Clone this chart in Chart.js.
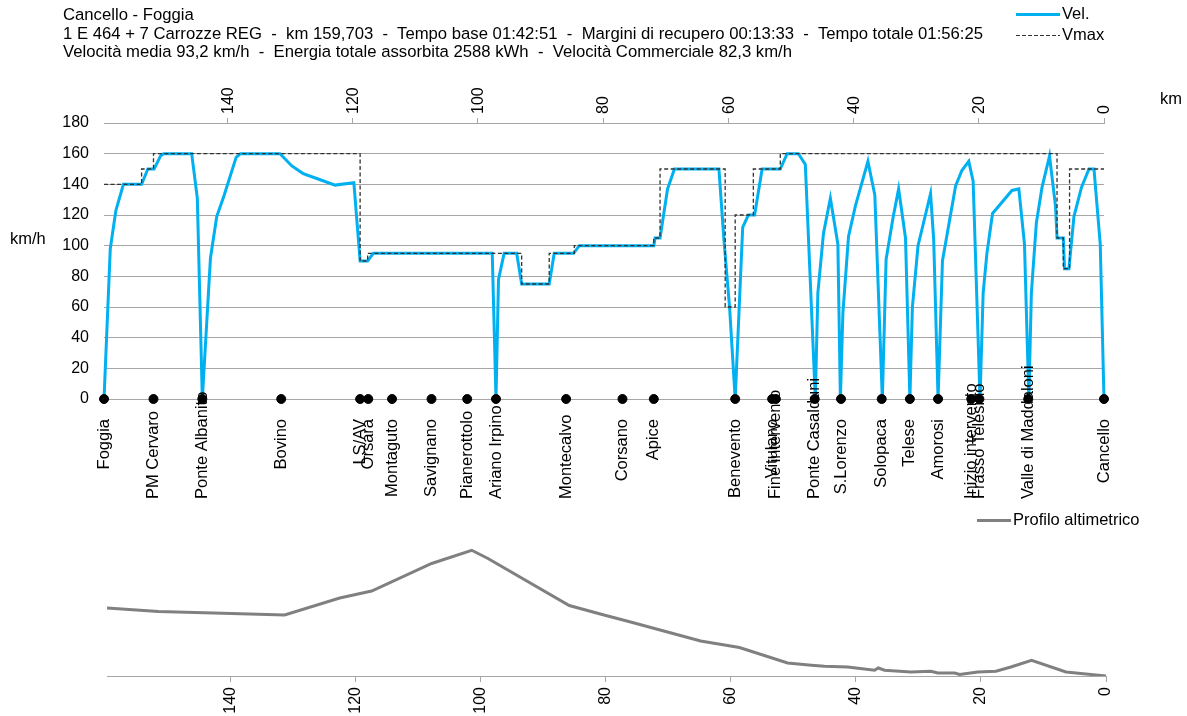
<!DOCTYPE html>
<html>
<head>
<meta charset="utf-8">
<script src="https://cdn.jsdelivr.net/npm/chart.js@4.4.0/dist/chart.umd.min.js"></script>
<style>
  body { margin: 0; background: #fff; font-family: "Liberation Sans", Arial, sans-serif; }
  #pagina { position: relative; width: 1187px; height: 716px; overflow: hidden; }
  canvas { position: absolute; left: 0; }
  #graficoVel { top: 0; }
  #graficoProfilo { top: 500px; }
  .testo { position: absolute; font-size: 16.5px; color: #000; white-space: pre; line-height: 18.5px; }
  .linea { position: absolute; height: 3px; width: 44px; }
</style>
</head>
<body>
<div id="pagina">
  <canvas id="graficoVel" width="1187" height="510"></canvas>
  <canvas id="graficoProfilo" width="1187" height="216"></canvas>

  <div class="testo" style="left:63px; top:6px; font-size:16.7px;">Cancello - Foggia
1 E 464 + 7 Carrozze REG  -  km 159,703  -  Tempo base 01:42:51  -  Margini di recupero 00:13:33  -  Tempo totale 01:56:25
Velocità media 93,2 km/h  -  Energia totale assorbita 2588 kWh  -  Velocità Commerciale 82,3 km/h</div>

  <!-- legenda in alto -->
  <div class="linea" style="left:1016px; top:13px; background:#00b0f0;"></div>
  <div class="testo" style="left:1062px; top:4px;">Vel.</div>
  <div class="linea" style="left:1016px; top:35px; height:1px; background:repeating-linear-gradient(90deg,#333 0 4px,transparent 4px 6px);"></div>
  <div class="testo" style="left:1062px; top:25px;">Vmax</div>

  <div class="testo" style="left:10px; top:229px;">km/h</div>
  <div class="testo" style="left:1160px; top:89px;">km</div>

  <!-- legenda profilo -->
  <div class="linea" style="left:977px; top:519px; width:34px; background:#808080;"></div>
  <div class="testo" style="left:1013px; top:510px;">Profilo altimetrico</div>
</div>

<script>
// km progressivi (da Foggia 159,703 a Cancello 0)
var kmTotale = 159.703;
var tickKm = [140, 120, 100, 80, 60, 40, 20, 0];

// velocita' effettiva
var kmVel = [159.7, 158.7, 157.8, 156.6, 153.7, 152.7, 151.7, 150.65, 150.2, 145.7, 144.8, 144.0,
  142.7, 141.7, 140.5, 138.6, 137.9, 131.6, 129.7, 127.9, 125.5, 122.8, 119.8, 118.8, 117.6, 116.7,
  97.7, 97.1, 96.7, 95.8, 93.8, 93.0, 88.6, 87.8, 84.7, 83.8, 71.9, 71.7, 70.9, 70.3, 69.7, 68.6,
  61.5, 60.7, 59.8, 58.9, 57.7, 56.8, 55.8, 54.6, 51.7, 50.6, 48.8, 47.7, 46.1, 45.7, 44.8, 43.7,
  42.5, 42.1, 41.7, 40.8, 39.7, 37.7, 36.6, 35.4, 34.8, 33.7, 32.8, 31.7, 31.0, 30.6, 29.7, 27.7,
  27.2, 26.5, 25.8, 23.7, 22.7, 21.6, 20.9, 19.8, 19.3, 18.7, 17.8, 14.7, 13.6, 12.7, 12.0, 11.6,
  10.8, 9.9, 8.7, 7.75, 7.5, 6.5, 6.3, 5.6, 4.8, 3.6, 2.4, 1.6, 0.6, 0];
var vel = [0, 98, 123, 140, 140, 150, 150, 158.7, 160, 160, 131, 0,
  92, 119, 133, 157.6, 160, 160, 152, 147, 143.5, 139.5, 141, 90, 90, 95,
  95, 0, 78, 95, 95, 75, 75, 95, 95, 100, 100, 105, 105, 121, 137, 150,
  150, 104, 60, 0, 112, 120, 120, 150, 150, 160, 160, 153, 0, 69, 108, 131,
  101, 0, 56, 106, 126, 155, 133, 0, 91, 118, 137, 105, 0, 60, 100, 134,
  104, 0, 90, 139, 149, 155, 142, 0, 69, 95, 121, 136, 137, 101, 0, 69,
  115, 138, 158.5, 126, 105, 105, 85, 85, 119, 138, 150, 150, 101, 0];

// velocita' massima: km di inizio tratta e limite
var kmVmax = [159.7, 153.7, 151.8, 118.8, 117.6, 93.0, 88.6, 84.6, 71.9, 70.9, 60.5, 58.9, 56.0, 51.7, 7.5, 6.5, 5.5, 0];
var vmax = [140, 150, 160, 90, 95, 75, 95, 100, 105, 150, 60, 120, 150, 160, 105, 85, 150, 150];

// stazioni e punti notevoli
var nomiStazioni = ['Foggia', 'PM Cervaro', 'Ponte Albanito', 'Bovino', 'LS/AV', 'Orsara', 'Montaguto',
  'Savignano', 'Pianerottolo', 'Ariano Irpino', 'Montecalvo', 'Corsano', 'Apice', 'Benevento',
  'Vitulano', 'Fine intervento', 'Ponte Casalduni', 'S.Lorenzo', 'Solopaca', 'Telese', 'Amorosi',
  'Inizio intervento', 'Frasso Telesino', 'Valle di Maddaloni', 'Cancello'];
var kmStazioni = [159.7, 151.8, 144.0, 131.4, 118.8, 117.5, 113.7, 107.4, 101.7, 97.1, 85.9, 76.9,
  71.9, 58.9, 53.0, 52.4, 46.2, 42.0, 35.5, 31.0, 26.5, 21.2, 19.9, 12.1, 0];

// profilo altimetrico (m)
var kmProfilo = [159.7, 151.5, 139.8, 131.3, 122.5, 117.4, 107.8, 101.4, 98.8, 85.8, 80.7, 76.0, 64.8,
  58.6, 50.9, 47.1, 45.0, 41.3, 37.0, 36.4, 35.4, 31.2, 28.0, 26.9, 24.2, 23.4, 20.5, 17.6, 15.2,
  11.9, 6.4, 4.0, 0];
var quote = [312, 298, 290, 284, 352, 380, 490, 543, 510, 322, 287, 256, 180,
  154, 92, 83, 79, 76, 63, 72, 63, 56, 59, 52, 52, 46, 56, 59, 76,
  103, 56, 50, 40];

function punti(xs, ys) {
  var r = [];
  for (var i = 0; i < xs.length; i++) r.push({ x: xs[i], y: ys[i] });
  return r;
}
function tickFissi(a) {
  a.ticks = tickKm.map(function(v) { return { value: v }; });
}

Chart.defaults.font.family = '"Liberation Sans", Arial, sans-serif';
Chart.defaults.font.size = 16;
Chart.defaults.color = '#000';
var grigio = '#a6a6a6';

// nomi delle stazioni in verticale sotto i pallini
var etichetteStazioni = {
  id: 'etichetteStazioni',
  afterDatasetsDraw: function(chart) {
    var ctx = chart.ctx;
    var sx = chart.scales.x;
    var fondo = chart.chartArea.bottom;
    ctx.save();
    ctx.font = '16.5px "Liberation Sans", Arial, sans-serif';
    ctx.fillStyle = '#000';
    ctx.textAlign = 'left';
    ctx.textBaseline = 'middle';
    for (var i = 0; i < nomiStazioni.length; i++) {
      var x = sx.getPixelForValue(kmStazioni[i]);
      var w = ctx.measureText(nomiStazioni[i]).width;
      var basso = Math.min(fondo + 20 + w, fondo + 100);
      ctx.save();
      ctx.translate(x, basso);
      ctx.rotate(-Math.PI / 2);
      ctx.fillText(nomiStazioni[i], 0, 0);
      ctx.restore();
    }
    ctx.restore();
  }
};

new Chart(document.getElementById('graficoVel'), {
  type: 'line',
  data: {
    datasets: [{
      label: 'Stazioni',
      data: kmStazioni.map(function(k) { return { x: k, y: 0 }; }),
      showLine: false,
      pointRadius: 4.5,
      pointBackgroundColor: '#000',
      pointBorderColor: '#000',
      clip: false,
      order: 0
    }, {
      label: 'Vmax',
      data: punti(kmVmax, vmax),
      borderColor: '#333',
      borderWidth: 1.3,
      borderDash: [4, 2.5],
      stepped: true,
      pointRadius: 0,
      clip: false,
      order: 1
    }, {
      label: 'Vel.',
      data: punti(kmVel, vel),
      borderColor: '#00b0f0',
      borderWidth: 3,
      pointRadius: 0,
      tension: 0,
      clip: false,
      order: 2
    }]
  },
  options: {
    responsive: false,
    animation: false,
    layout: { padding: { left: 0, right: 83, top: 0, bottom: 111 } },
    plugins: { legend: { display: false }, tooltip: { enabled: false } },
    scales: {
      x: {
        type: 'linear',
        position: 'top',
        reverse: true,
        min: 0,
        max: kmTotale,
        afterBuildTicks: tickFissi,
        afterFit: function(a) { a.height = 123; },
        ticks: { minRotation: 90, maxRotation: 90, autoSkip: false, padding: 4, labelOffset: 20 },
        grid: { drawOnChartArea: false, tickLength: 5, color: grigio },
        border: { color: grigio }
      },
      y: {
        min: 0,
        max: 180,
        afterFit: function(a) { a.width = 104; },
        ticks: { stepSize: 20, padding: 15 },
        grid: { drawTicks: false, color: grigio },
        border: { display: false }
      }
    }
  },
  plugins: [etichetteStazioni]
});

new Chart(document.getElementById('graficoProfilo'), {
  type: 'line',
  data: {
    datasets: [{
      label: 'Profilo altimetrico',
      data: punti(kmProfilo, quote),
      borderColor: '#808080',
      borderWidth: 3,
      pointRadius: 0,
      tension: 0
    }]
  },
  options: {
    responsive: false,
    animation: false,
    layout: { padding: { left: 107, right: 81, top: 36, bottom: 0 } },
    plugins: { legend: { display: false }, tooltip: { enabled: false } },
    scales: {
      x: {
        type: 'linear',
        position: 'bottom',
        reverse: true,
        min: 0,
        max: kmTotale,
        afterBuildTicks: tickFissi,
        afterFit: function(a) { a.height = 40; },
        ticks: { minRotation: 90, maxRotation: 90, autoSkip: false, padding: 5 },
        grid: { drawOnChartArea: false, tickLength: 6, color: grigio },
        border: { color: grigio }
      },
      y: { display: false, min: 40, max: 600 }
    }
  }
});
</script>
</body>
</html>
